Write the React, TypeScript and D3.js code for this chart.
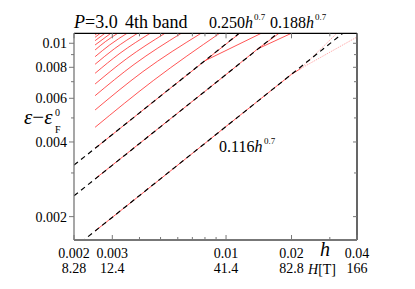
import React from 'react';
import * as d3 from 'd3';

// fitted power laws c * h^0.7
const fitCoefs = [0.116, 0.188, 0.25];
const fitPower = 0.7;

// lowest three levels, [h, eps]
const levelA = [[0.0025, 0.00175], [0.005, 0.00284], [0.01, 0.00462], [0.02, 0.0075], [0.022, 0.0079]];
const levelAUp = [[0.022, 0.0079], [0.0324, 0.011]];
const levelALow = [[0.022, 0.0079], [0.04, 0.0106]];
const levelB = [[0.0025, 0.00284], [0.005, 0.00461], [0.01, 0.00748], [0.014, 0.0095], [0.0176, 0.011]];
const levelBLow = [[0.014, 0.0095], [0.0201, 0.011]];
const levelC = [[0.0025, 0.00377], [0.005, 0.00613], [0.008, 0.0085], [0.0116, 0.011]];
const levelCLow = [[0.008, 0.0085], [0.0146, 0.011]];

// higher levels: start at h=0.0025, a middle point, and where they leave the top
const upperStart = [0.004584, 0.005383, 0.006147, 0.006851, 0.007568, 0.008228, 0.00883, 0.009396, 0.009843, 0.010244, 0.010573, 0.0108];
const upperMidH = [0.00465, 0.004148, 0.003774, 0.003494, 0.003254, 0.003066, 0.002916, 0.002788, null, null, null, null];
const upperMidE = [0.007094, 0.007686, 0.008213, 0.008672, 0.009114, 0.009502, 0.009843, 0.010154, null, null, null, null];
const upperEndH = [0.009384, 0.007714, 0.006256, 0.005264, 0.0045, 0.003938, 0.003524, 0.003194, 0.002966, 0.002786, 0.00265, 0.002562];

const yMajor = [0.002, 0.004, 0.006, 0.008, 0.01];
const yMinor = [0.003, 0.005, 0.007, 0.009];
const xTicks = [0.002, 0.003, 0.01, 0.02, 0.04];
const xTickLabels = ['0.002', '0.003', '0.01', '0.02', '0.04'];
const fieldLabels = ['8.28', '12.4', '41.4', '82.8', '166'];
const xMinor = [0.004, 0.005, 0.006, 0.007, 0.008, 0.009, 0.03];

const serif = '"Liberation Serif", "Times New Roman", serif';

export default function App() {
  const x = d3.scaleLog().domain([0.002, 0.04]).range([74, 357]);
  const y = d3.scaleLog().domain([0.00161, 0.01097]).range([240, 33.3]);
  const [x0, x1] = x.range();
  const [y0, y1] = y.range();
  const line = d3.line<number[]>().x(d => x(d[0])).y(d => y(d[1]));
  const smooth = d3.line<number[]>().x(d => x(d[0])).y(d => y(d[1])).curve(d3.curveMonotoneX);

  const upper = upperStart.map((e, i) => {
    const pts = [[0.0025, e]];
    if (upperMidH[i] != null) pts.push([upperMidH[i] as number, upperMidE[i] as number]);
    pts.push([upperEndH[i], 0.011]);
    return pts;
  });
  const fits = fitCoefs.map(c => [0.002, 0.04].map(h => [h, c * Math.pow(h, fitPower)]));

  const red = '#ff2a2a';
  const pink = '#ff9a9a';

  return (
    <svg width={415} height={289} style={{ position: 'absolute', left: 0, top: 0 }} fontFamily={serif}>
      <rect width={415} height={289} fill="#fff" />
      <defs>
        <clipPath id="frame">
          <rect x={x0} y={y1} width={x1 - x0} height={y0 - y1} />
        </clipPath>
      </defs>
      <g clipPath="url(#frame)" fill="none">
        {upper.map((d, i) => (
          <path key={'u' + i} d={smooth(d) || ''} stroke={red} strokeWidth={0.8} />
        ))}
        {[levelA, levelB, levelC, levelBLow, levelCLow].map((d, i) => (
          <path key={'l' + i} d={line(d) || ''} stroke={red} strokeWidth={0.8} />
        ))}
        {[levelAUp, levelALow].map((d, i) => (
          <path key={'p' + i} d={line(d) || ''} stroke={pink} strokeWidth={0.8} strokeDasharray="1.5 1" />
        ))}
        {fits.map((d, i) => (
          <path key={'f' + i} d={line(d) || ''} stroke="#000" strokeWidth={1.2} strokeDasharray="5 4" />
        ))}
      </g>

      {/* frame */}
      <line x1={x0} x2={x1} y1={y1} y2={y1} stroke="#000" strokeWidth={1.3} />
      <line x1={x1} x2={x1} y1={y1} y2={y0} stroke="#000" strokeWidth={1.2} />
      <line x1={x0} x2={x0} y1={y1} y2={y0} stroke="#777" strokeWidth={1.3} />
      <line x1={x0} x2={x1} y1={y0} y2={y0} stroke="#777" strokeWidth={2} />

      {/* y ticks */}
      {yMajor.map(v => (
        <g key={'ym' + v} stroke="#777">
          <line x1={x0 - 5} x2={x0} y1={y(v)} y2={y(v)} />
          <line x1={x1 - 4} x2={x1} y1={y(v)} y2={y(v)} />
        </g>
      ))}
      {yMinor.map(v => (
        <g key={'yn' + v} stroke="#777">
          <line x1={x0 - 3} x2={x0} y1={y(v)} y2={y(v)} />
          <line x1={x1 - 3} x2={x1} y1={y(v)} y2={y(v)} />
        </g>
      ))}
      {yMajor.map(v => (
        <text key={'yl' + v} x={67} y={y(v) + 5} textAnchor="end" fontSize={14}>{String(v)}</text>
      ))}

      {/* x ticks */}
      {xTicks.map(v => (
        <g key={'xm' + v} stroke="#777">
          <line x1={x(v)} x2={x(v)} y1={y0} y2={y0 - 5} />
          <line x1={x(v)} x2={x(v)} y1={y1} y2={y1 + 5} />
        </g>
      ))}
      {xMinor.map(v => (
        <g key={'xn' + v} stroke="#777">
          <line x1={x(v)} x2={x(v)} y1={y0} y2={y0 - 3} />
          <line x1={x(v)} x2={x(v)} y1={y1} y2={y1 + 3} />
        </g>
      ))}
      {xTicks.map((v, i) => (
        <text key={'xl' + v} x={x(v)} y={258} textAnchor="middle" fontSize={14}>{xTickLabels[i]}</text>
      ))}
      {xTicks.map((v, i) => (
        <text key={'fl' + v} x={x(v)} y={273} textAnchor="middle" fontSize={14}>{fieldLabels[i]}</text>
      ))}
      <text x={320} y={256} fontSize={20} fontStyle="italic">h</text>
      <text x={308} y={274} fontSize={14}><tspan fontStyle="italic">H</tspan>[T]</text>

      {/* y label */}
      <text x={24} y={124} fontSize={21} fontStyle="italic">ε<tspan fontStyle="normal">−</tspan>ε</text>
      <text x={55} y={116} fontSize={10}>0</text>
      <text x={55} y={132.5} fontSize={10}>F</text>

      {/* annotations */}
      <text x={74} y={28} fontSize={18}><tspan fontStyle="italic">P</tspan>=3.0</text>
      <text x={125} y={28} fontSize={18}>4th band</text>
      <text x={209} y={28} fontSize={16}>0.250<tspan fontStyle="italic">h</tspan></text>
      <text x={254} y={20} fontSize={9}>0.7</text>
      <text x={270} y={28} fontSize={16}>0.188<tspan fontStyle="italic">h</tspan></text>
      <text x={315} y={20} fontSize={9}>0.7</text>
      <text x={219} y={152} fontSize={16}>0.116<tspan fontStyle="italic">h</tspan></text>
      <text x={264} y={144} fontSize={9}>0.7</text>
    </svg>
  );
}
